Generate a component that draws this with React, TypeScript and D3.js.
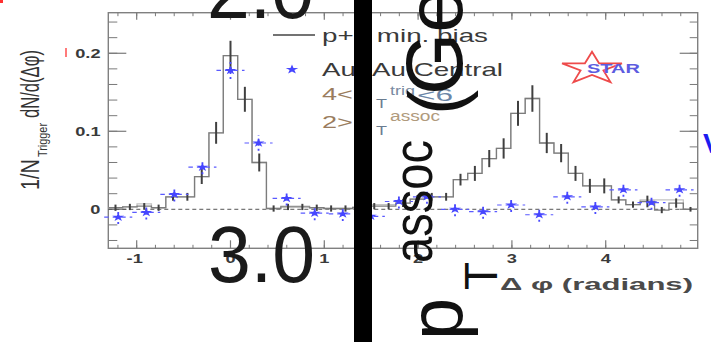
import React from 'react';
import * as d3 from 'd3';

// Binning: p+p histogram uses 41 bins over 2π, Au+Au uses 21 bins over 2π
const PP_W = (2 * Math.PI) / 41;
const AA_W = (2 * Math.PI) / 21;

const ppBinIndex = d3.range(-8, 33);
const ppYield = [
  0.002, 0.003, 0.004, 0.002, 0.016, 0.016, 0.042, 0.098, 0.197, 0.141,
  0.060, 0.001, 0.003, 0.003, 0.002, 0.001, 0.001, 0.002, 0.004, 0.004,
  0.008, 0.013, 0.016, 0.016, 0.038, 0.046, 0.065, 0.078, 0.123, 0.142,
  0.085, 0.072, 0.046, 0.030, 0.030, 0.012, 0.006, 0.010, -0.001, 0.008,
  0.000,
];
const ppError = [
  0.004, 0.004, 0.004, 0.004, 0.005, 0.005, 0.0096, 0.014, 0.019, 0.016,
  0.0115, 0.004, 0.004, 0.004, 0.004, 0.004, 0.004, 0.004, 0.004, 0.004,
  0.005, 0.005, 0.005, 0.005, 0.0075, 0.0096, 0.011, 0.013, 0.016, 0.017,
  0.013, 0.0117, 0.0096, 0.009, 0.0096, 0.0045, 0.004, 0.0075, 0.004, 0.006,
  0.003,
];
// second (lighter) p+p histogram
const ppLightYield = [
  0.002, 0.003, 0.007, 0.002, 0.016, 0.016, 0.042, 0.098, 0.197, 0.141,
  0.060, 0.001, 0.004, 0.004, 0.002, 0.001, 0.001, 0.003, 0.006, 0.006,
  0.008, 0.013, 0.016, 0.016, 0.038, 0.046, 0.065, 0.078, 0.123, 0.142,
  0.085, 0.072, 0.046, 0.030, 0.030, 0.012, 0.006, 0.012, 0.012, 0.012,
  0.000,
];

const aaBinIndex = d3.range(-4, 17);
const aaYield = [
  -0.010, -0.004, 0.019, 0.054, 0.178, 0.085, 0.014, -0.005, -0.006, -0.009,
  0.010, 0.016, 0.000, -0.003, 0.0055, -0.007, 0.016, 0.003, 0.025, 0.0085,
  0.025,
];
const aaError = [
  0.009, 0.009, 0.009, 0.009, 0.011, 0.010, 0.009, 0.009, 0.009, 0.009,
  0.009, 0.009, 0.009, 0.009, 0.009, 0.009, 0.009, 0.009, 0.009, 0.009,
  0.009,
];

const xTickValues = [-1, 0, 1, 2, 3, 4];
const xTickLabels = ['-1', '0', '1', '2', '3', '4'];
const yTickValues = [0, 0.1, 0.2];
const yTickLabels = ['0', '0.1', '0.2'];
const xMinorTicks = d3.range(-12, 50, 2).map((v) => v / 10);
const yMinorTicks = d3.range(-4, 26, 2).map((v) => v / 100);

const FONT = "'Liberation Sans', Arial, Helvetica, sans-serif";

const starPath = d3.symbol(d3.symbolStar, 34)() as string;

function logoStar(cx: number, cy: number, rx: number, ry: number) {
  const pts: string[] = [];
  for (let i = 0; i < 10; i++) {
    const a = -Math.PI / 2 + (i * Math.PI) / 5;
    const r = i % 2 === 0 ? 1 : 0.382;
    pts.push(`${cx + Math.cos(a) * rx * r},${cy + Math.sin(a) * ry * r}`);
  }
  return 'M' + pts.join('L') + 'Z';
}

export default function App() {
  const x = d3.scaleLinear().domain([-8.5 * PP_W, 32.5 * PP_W]).range([108.3, 697.7]);
  const y = d3.scaleLinear().domain([-0.05, 0.252]).range([248.3, 12.7]);
  const [x0, x1] = x.range();
  const [yb, yt] = y.range();

  const stepLine = d3.line<[number, number]>().curve(d3.curveStepAfter);
  const histPts = (vals: number[]) => {
    const pts: [number, number][] = vals.map((v, i) => [x((ppBinIndex[i] - 0.5) * PP_W), y(v)]);
    pts.push([x((ppBinIndex[ppBinIndex.length - 1] + 0.5) * PP_W), y(vals[vals.length - 1])]);
    return pts;
  };

  const tickColor = '#7a7a7a';
  const labelColor = '#3a3a3a';

  return (
    <div style={{ position: 'absolute', left: 0, top: 0 }}>
      <svg width={711} height={342} style={{ display: 'block', background: '#fff' }} fontFamily={FONT}>
        {/* frame */}
        <rect x={x0} y={yt} width={x1 - x0} height={yb - yt} fill="none" stroke="#808080" strokeWidth={1.4} />
        {/* x ticks */}
        {xMinorTicks.map((t) => (
          <g key={'xm' + t} stroke={tickColor} strokeWidth={1}>
            <line x1={x(t)} x2={x(t)} y1={yb} y2={yb - 3.5} />
            <line x1={x(t)} x2={x(t)} y1={yt} y2={yt + 3.5} />
          </g>
        ))}
        {xTickValues.map((t) => (
          <g key={'xM' + t} stroke={tickColor} strokeWidth={1.2}>
            <line x1={x(t)} x2={x(t)} y1={yb} y2={yb - 8} />
            <line x1={x(t)} x2={x(t)} y1={yt} y2={yt + 7} />
          </g>
        ))}
        {/* y ticks */}
        {yMinorTicks.map((t) => (
          <g key={'ym' + t} stroke={tickColor} strokeWidth={1}>
            <line x1={x0} x2={x0 + 9} y1={y(t)} y2={y(t)} />
            <line x1={x1} x2={x1 - 8} y1={y(t)} y2={y(t)} />
          </g>
        ))}
        {yTickValues.map((t) => (
          <g key={'yM' + t} stroke={tickColor} strokeWidth={1.2}>
            <line x1={x0} x2={x0 + 18} y1={y(t)} y2={y(t)} />
            <line x1={x1} x2={x1 - 18} y1={y(t)} y2={y(t)} />
          </g>
        ))}
        {/* tick labels */}
        {xTickValues.map((t, i) => (
          <text
            key={'xl' + t}
            transform={`translate(${x(t) - (t < 0 ? 2 : 0)},262.5) scale(1.35,1)`}
            textAnchor="middle"
            fontSize={13.5}
            fontWeight="bold"
            fill={labelColor}
          >
            {xTickLabels[i]}
          </text>
        ))}
        {yTickValues.map((t, i) => (
          <text
            key={'yl' + t}
            transform={`translate(100.5,${y(t) + 4.8}) scale(1.35,1)`}
            textAnchor="end"
            fontSize={13.5}
            fontWeight="bold"
            fill={labelColor}
          >
            {yTickLabels[i]}
          </text>
        ))}
        {/* axis titles */}
        <g transform="translate(39,190) rotate(-90)" fill="#333">
          <text x={0} y={0} fontSize={26} textLength={31} lengthAdjust="spacingAndGlyphs">1/N</text>
          <text x={33} y={8} fontSize={13} textLength={34} lengthAdjust="spacingAndGlyphs">Trigger</text>
          <text x={72} y={0} fontSize={26} textLength={68} lengthAdjust="spacingAndGlyphs">dN/d(Δφ)</text>
        </g>
        <text x={500} y={289.5} fontSize={16.5} fontWeight="bold" fill="#4a4a4a" textLength={193} lengthAdjust="spacingAndGlyphs">
          Δ φ (radians)
        </text>

        {/* zero line */}
        <line x1={x0} x2={x1} y1={y(0)} y2={y(0)} stroke="#555" strokeWidth={1} strokeDasharray="4,3" />

        {/* p+p histograms */}
        <path d={stepLine(histPts(ppLightYield)) || ''} fill="none" stroke="#c4c4c4" strokeWidth={1.3} />
        <path d={stepLine(histPts(ppYield)) || ''} fill="none" stroke="#7c7c7c" strokeWidth={1.3} />
        {ppYield.map((v, i) => (
          <line
            key={'pe' + i}
            x1={x(ppBinIndex[i] * PP_W)}
            x2={x(ppBinIndex[i] * PP_W)}
            y1={y(v - ppError[i])}
            y2={y(v + ppError[i])}
            stroke="#404040"
            strokeWidth={2}
          />
        ))}

        {/* Au+Au central points */}
        {aaYield.map((v, i) => {
          const cx = x(aaBinIndex[i] * AA_W);
          const cy = y(v);
          return (
            <g key={'aa' + i}>
              <line x1={x((aaBinIndex[i] - 0.5) * AA_W)} x2={x((aaBinIndex[i] + 0.5) * AA_W)} y1={cy} y2={cy}
                stroke="#5a5aff" strokeWidth={1.2} strokeDasharray="4.5,4" />
              <line x1={cx} x2={cx} y1={y(v - aaError[i])} y2={y(v + aaError[i])}
                stroke="#4a4aff" strokeWidth={1.8} strokeDasharray="2,3" />
              <path d={starPath} transform={`translate(${cx},${cy}) scale(1.15,0.85)`} fill="#4646ff" />
            </g>
          );
        })}

        {/* legend */}
        <line x1={273} x2={315} y1={35} y2={35} stroke="#444" strokeWidth={1.5} />
        <text x={322} y={42} fontSize={18.5} fill="#3a3a3a" textLength={166} lengthAdjust="spacingAndGlyphs">p+p min. bias</text>
        <path d={starPath} transform="translate(292,69.5) scale(1.2,0.9)" fill="#4646ff" />
        <text x={322} y={76} fontSize={18.5} fill="#3a3a3a" textLength={181} lengthAdjust="spacingAndGlyphs">Au+Au Central</text>
        <text x={322} y={100} fontSize={17} fill="#9a7c5e" textLength={46} lengthAdjust="spacingAndGlyphs">4&lt;p</text>
        <text x={376} y={108} fontSize={13.5} fill="#6a7c90" textLength={11} lengthAdjust="spacingAndGlyphs">T</text>
        <text x={390} y={95} fontSize={12} fill="#7a8ca2" textLength={25} lengthAdjust="spacingAndGlyphs">trig</text>
        <text x={417} y={100.5} fontSize={17} fill="#6a86a8" textLength={36} lengthAdjust="spacingAndGlyphs">&lt;6</text>
        <text x={322} y={128} fontSize={17} fill="#9a7c5e" textLength={46} lengthAdjust="spacingAndGlyphs">2&gt;p</text>
        <text x={376} y={135} fontSize={13.5} fill="#6a7c90" textLength={11} lengthAdjust="spacingAndGlyphs">T</text>
        <text x={390} y={121} fontSize={14} fill="#b09a7c" textLength={50} lengthAdjust="spacingAndGlyphs">assoc</text>

        {/* STAR logo */}
        <path d={logoStar(592, 68.5, 31.5, 16.8)} fill="none" stroke="#ee4b4b" strokeWidth={1.8} />
        <text x={587} y={73} fontSize={13.5} fontWeight="bold" fill="#5c5ce0" textLength={53} lengthAdjust="spacingAndGlyphs">STAR</text>

        {/* overlaid slide annotations */}
        <text x={207} y={18} fontSize={80} fill="#1a1a1a" textLength={107} lengthAdjust="spacingAndGlyphs">2.0</text>
        <text x={208} y={281.5} fontSize={80} fill="#1a1a1a" textLength={107} lengthAdjust="spacingAndGlyphs">3.0</text>
        <rect x={354} y={0} width={18} height={342} fill="#000" />
        <g transform="translate(462,340) rotate(-90)" fill="#111">
          <text x={0} y={0} fontSize={76}>p</text>
          <text x={50} y={35} fontSize={46}>T</text>
          <text x={77} y={-30} fontSize={56} textLength={123} lengthAdjust="spacingAndGlyphs">assoc</text>
          <text x={225} y={0} fontSize={76}>(</text>
          <text x={245} y={0} fontSize={80}>Ge</text>
        </g>
        <text x={703} y={153} fontSize={28} fontWeight="bold" fill="#1c1cf0">V</text>
        <rect x={65} y={48} width={2} height={9} fill="#ff7a7a" />
        <rect x={0} y={0} width={3} height={3} fill="#ff3030" />
      </svg>
    </div>
  );
}
